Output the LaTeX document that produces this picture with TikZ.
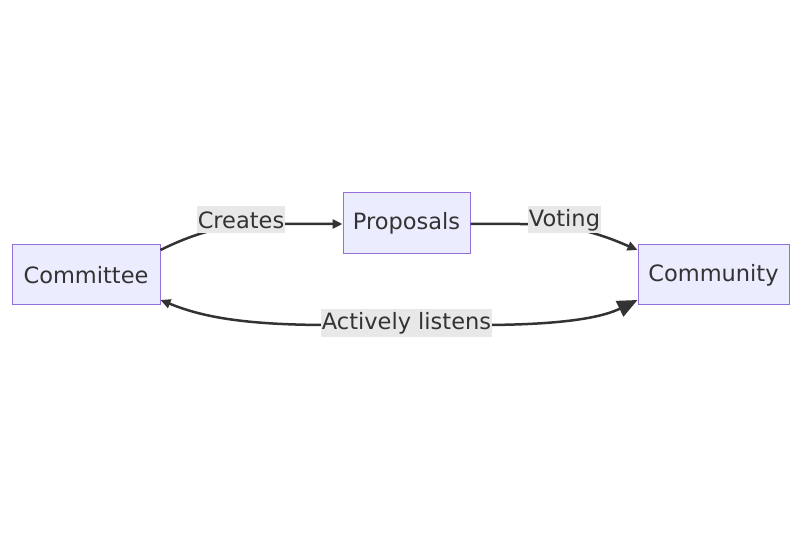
\documentclass[tikz,border=0pt]{standalone}
\usepackage{fontspec}
\setmainfont{DejaVu Sans}
\usetikzlibrary{arrows.meta}
\definecolor{nodefill}{HTML}{ECECFF}
\definecolor{nodeline}{HTML}{9370DB}
\definecolor{edgecol}{HTML}{333333}
\definecolor{lblbg}{HTML}{E8E8E8}
\begin{document}
\begin{tikzpicture}[x=1pt,y=-1pt,
  box/.style={draw=nodeline,fill=nodefill,line width=1pt,inner sep=0pt,minimum height=60pt,font=\fontsize{22.5}{26}\selectfont,text=edgecol},
  lbl/.style={fill=lblbg,inner sep=1pt,font=\fontsize{22.5}{26}\selectfont,text=edgecol,minimum height=27pt},
  edge/.style={draw=edgecol,line width=2.5pt},
  tip/.style={-{Stealth[length=10pt,width=9pt,inset=0pt]}},
  bigtip/.style={-{Stealth[length=20pt,width=17pt,inset=0pt]}}]
\useasboundingbox (0,0) rectangle (801,540);
\node[box,minimum width=148pt] (committee) at (86,275) {Committee};
\node[box,minimum width=127pt,minimum height=61pt] (proposals) at (406.5,223.5) {Proposals};
\node[box,minimum width=151pt] (community) at (713.5,275) {Community};
% Creates
\coordinate (c1) at ([yshift=25pt]committee.east);
\coordinate (c2) at ([yshift=-0.5pt]proposals.west);
\draw[edge,tip] (c1) .. controls (195,233) and (225,224) .. (270,224) -- (c2);
\node[lbl] (creates) at (241,220) {Creates};
% Voting
\coordinate (v1) at ([yshift=-0.5pt]proposals.east);
\coordinate (v2) at ([yshift=25pt]community.west);
\draw[edge,tip] (v1) -- (520,224) .. controls (575,224) and (605,236) .. (v2);
\node[lbl] (voting) at (564.5,220) {Voting};
% Actively listens
\coordinate (a1) at ([yshift=-25pt]committee.east);
\coordinate (a2) at ([yshift=-25pt]community.west);
\draw[edge,tip] (330,325) .. controls (240,325) and (200,316) .. (a1);
\draw[edge,bigtip] (480,325) .. controls (570,325) and (605,316) .. (a2);
\draw[edge] (330,325) -- (480,325);
\node[lbl] (listens) at (406.5,323) {Actively listens};
\end{tikzpicture}
\end{document}
